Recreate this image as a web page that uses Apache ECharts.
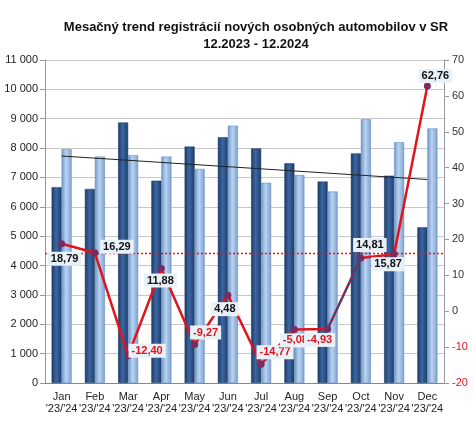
<!DOCTYPE html>
<html>
<head>
<meta charset="utf-8">
<script src="https://cdn.jsdelivr.net/npm/echarts@6/dist/echarts.min.js"></script>
<style>
  html, body { margin: 0; padding: 0; background: #fff; }
  #echart { width: 474px; height: 427px; }
</style>
</head>
<body>
<div id="echart"></div>
<script>
// data
var months = ['Jan', 'Feb', 'Mar', 'Apr', 'May', 'Jun', 'Jul', 'Aug', 'Sep', 'Oct', 'Nov', 'Dec']
var yearLabel = "'23/'24"
var reg2023 = [6670, 6610, 8870, 6890, 8050, 8370, 7990, 7480, 6860, 7820, 7060, 5300]
var reg2024 = [7960, 7710, 7760, 7710, 7290, 8760, 6820, 7080, 6520, 8980, 8200, 8670]
var changePct = [18.79, 16.29, -12.40, 11.88, -9.27, 4.48, -14.77, -5.08, -4.93, 14.81, 15.87, 62.76]
// trend line end points (Jan, Dec)
var trendEnds = [7730, 6930]
// red dotted reference level on the right axis
var refLevel = 16.2
var leftTicks = { min: 0, max: 11000, interval: 1000 }
var rightTicks = { min: -20, max: 70, interval: 10 }

// where each % label sits relative to its point
var labelOffsets = [[3, 15], [22, -6], [19, -5], [-1, 12], [11, -12], [-3, 14],
                    [14, -12], [1, 11], [-8, 11], [9, -13], [-6, 10], [8, -10]]

var red = '#e0141c'
var fmt = function (v) { return v.toFixed(2).replace('.', ',') }

var lineData = changePct.map(function (v, i) {
  return {
    value: v,
    label: {
      show: true,
      position: 'inside',
      offset: labelOffsets[i],
      formatter: fmt(v),
      color: v < 0 ? red : '#111',
      fontWeight: 'bold',
      fontSize: 11,
      fontFamily: 'Liberation Sans, Arial',
      backgroundColor: '#e8f1f8',
      padding: [2, 3, 1, 3]
    }
  }
})

// Sep -> Oct segment is blue in the original
var blueSeg = changePct.map(function (v, i) { return (i === 8 || i === 9) ? v : null })

var trendData = months.map(function (m, i) {
  if (i === 0) return trendEnds[0]
  if (i === months.length - 1) return trendEnds[1]
  return null
})

var darkGrad = new echarts.graphic.LinearGradient(0, 0, 1, 0, [
  { offset: 0, color: '#1c3a66' },
  { offset: 0.45, color: '#3c67a2' },
  { offset: 1, color: '#1e3d6c' }
])
var lightGrad = new echarts.graphic.LinearGradient(0, 0, 1, 0, [
  { offset: 0, color: '#6f97c9' },
  { offset: 0.45, color: '#bad3f0' },
  { offset: 1, color: '#7ba1d1' }
])

var options = {
  animation: false,
  backgroundColor: '#fff',
  textStyle: { fontFamily: 'Liberation Sans, Arial' },
  title: {
    text: 'Mesačný trend registrácií nových osobných automobilov v SR\n12.2023 - 12.2024',
    left: 251,
    textAlign: 'center',
    top: 14,
    textStyle: { fontSize: 13, fontWeight: 'bold', color: '#111', lineHeight: 17, fontFamily: 'Liberation Sans, Arial' }
  },
  grid: { left: 45, right: 30, top: 60, bottom: 44 },
  xAxis: {
    type: 'category',
    data: months,
    axisLine: { lineStyle: { color: '#888' } },
    axisTick: { show: false },
    axisLabel: {
      interval: 0,
      color: '#222',
      fontSize: 11,
      lineHeight: 12,
      margin: 8,
      formatter: function (m) { return m + '\n' + yearLabel }
    }
  },
  yAxis: [
    {
      type: 'value',
      min: leftTicks.min,
      max: leftTicks.max,
      interval: leftTicks.interval,
      axisLine: { show: true, lineStyle: { color: '#999' } },
      axisTick: { show: true, lineStyle: { color: '#999' } },
      axisLabel: {
        color: '#222',
        fontSize: 11,
        margin: 7,
        formatter: function (v) { return v.toLocaleString('en-US').replace(',', ' ') }
      },
      splitLine: { lineStyle: { color: '#c8c8c8' } }
    },
    {
      type: 'value',
      min: rightTicks.min,
      max: rightTicks.max,
      interval: rightTicks.interval,
      axisLine: { show: true, lineStyle: { color: '#999' } },
      axisTick: { show: true, lineStyle: { color: '#999' } },
      axisLabel: {
        fontSize: 11,
        margin: 8,
        color: function (v) { return Number(v) < 0 ? red : '#333' }
      },
      splitLine: { show: false }
    }
  ],
  series: [
    {
      name: '2023',
      type: 'bar',
      data: reg2023,
      barWidth: 10,
      barGap: '0%',
      itemStyle: { color: darkGrad, borderColor: '#17325a', borderWidth: 0.5 }
    },
    {
      name: '2024',
      type: 'bar',
      data: reg2024,
      barWidth: 10,
      itemStyle: { color: lightGrad, borderColor: '#5a84b8', borderWidth: 0.5 }
    },
    {
      name: 'trend',
      type: 'line',
      data: trendData,
      connectNulls: true,
      symbol: 'none',
      lineStyle: { color: '#222', width: 1 },
      z: 3
    },
    {
      name: 'zmena',
      type: 'line',
      yAxisIndex: 1,
      data: lineData,
      symbol: 'circle',
      symbolSize: 7,
      itemStyle: { color: '#7a2c62' },
      lineStyle: { color: red, width: 2.5 },
      z: 5
    },
    {
      name: 'seg',
      type: 'line',
      yAxisIndex: 1,
      data: blueSeg,
      symbol: 'none',
      lineStyle: { color: '#2b4c82', width: 1.5 },
      z: 6,
      // red dotted level line
      markLine: {
        silent: true,
        symbol: 'none',
        label: { show: false },
        lineStyle: { color: '#ee1111', type: [2, 2], width: 1.3, opacity: 1 },
        data: [{ yAxis: refLevel }]
      }
    }
  ]
}

var echart = echarts.init(document.getElementById('echart'))
echart.setOption(options)
</script>
</body>
</html>
